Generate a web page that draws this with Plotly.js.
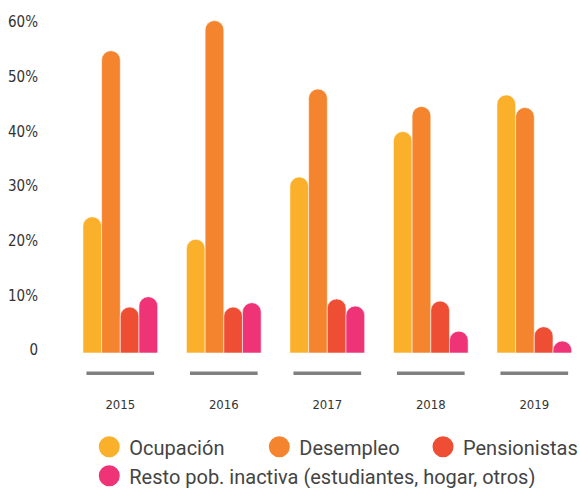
<!DOCTYPE html>
<html>
<head>
<meta charset="utf-8">
<script src="https://cdn.plot.ly/plotly-3.0.1.min.js"></script>
<style>html,body{margin:0;padding:0;background:#fff;}#chart{width:580px;height:488px;}</style>
</head>
<body>
<div id="chart"></div>
<script>
// ---- data ----
const years = ["2015", "2016", "2017", "2018", "2019"];
const seriesNames = ["Ocupación", "Desempleo", "Pensionistas", "Resto pob. inactiva (estudiantes, hogar, otros)"];
const ocupacion    = [24.9, 20.8, 32.2, 40.5, 47.2];
const desempleo    = [55.3, 60.8, 48.3, 45.1, 44.9];
const pensionistas = [8.4, 8.4, 9.9, 9.5, 4.8];
const resto        = [10.3, 9.2, 8.6, 4.0, 2.2];
const yTickVals  = [0, 10, 20, 30, 40, 50, 60];
const yTickText  = ["0", "10%", "20%", "30%", "40%", "50%", "60%"];

// ---- styling ----
const colors = ["#FAB02B", "#F4842E", "#EE4E34", "#EE3377"];
const values = [ocupacion, desempleo, pensionistas, resto];
const narrow = "DejaVu Sans Condensed, Liberation Sans Narrow, sans-serif";
const legendIds = ["legend", "legend2", "legend3", "legend4"];
const legendPos = [[0.0563, -0.2165], [0.3833, -0.2165], [0.6981, -0.2165], [0.0563, -0.3010]];

const traces = [];
values.forEach((vals, i) => {
  traces.push({
    type: "bar", x: years, y: vals, name: seriesNames[i], showlegend: false,
    marker: { color: colors[i], cornerradius: "50%", line: { color: "rgba(255,255,255,0.7)", width: 0.8 } },
    hoverinfo: "skip"
  });
});
values.forEach((vals, i) => {
  traces.push({
    type: "scatter", mode: "markers", x: [null], y: [null], name: seriesNames[i],
    legend: legendIds[i],
    marker: { color: colors[i], size: 16, line: { color: colors[i], width: 5 } }
  });
});

const shapes = years.map((y, i) => ({
  type: "line", xref: "x", yref: "paper",
  x0: i - 0.327, x1: i + 0.327, y0: -0.0592, y1: -0.0592,
  line: { color: "#808080", width: 3.5 }
}));

const legendFont = { family: "Roboto, sans-serif", size: 20, color: "#444" };

const layout = {
  width: 580, height: 488,
  margin: { l: 60, r: 0, t: 10, b: 135, autoexpand: false },
  paper_bgcolor: "#fff", plot_bgcolor: "#fff",
  barmode: "group", bargap: 0.278, bargroupgap: 0,
  xaxis: {
    type: "category", range: [-0.5826, 4.4416], showgrid: false, zeroline: false,
    showline: false, ticks: "", ticklabelstandoff: 42,
    tickfont: { family: narrow, size: 13, color: "#333" }
  },
  yaxis: {
    range: [0, 62.74], showgrid: false, zeroline: false, showline: false, ticks: "",
    tickvals: yTickVals, ticktext: yTickText, ticklabelstandoff: 21, ticklabelshift: -3,
    tickfont: { family: narrow, size: 15, color: "#333" }
  },
  shapes: shapes,
  showlegend: true
};
legendIds.forEach((id, i) => {
  layout[id] = {
    orientation: "h", x: legendPos[i][0], xanchor: "left", y: legendPos[i][1], yanchor: "top",
    font: legendFont, itemclick: false, bgcolor: "rgba(0,0,0,0)"
  };
});

Plotly.newPlot("chart", traces, layout, { displayModeBar: false, staticPlot: true });
</script>
</body>
</html>
